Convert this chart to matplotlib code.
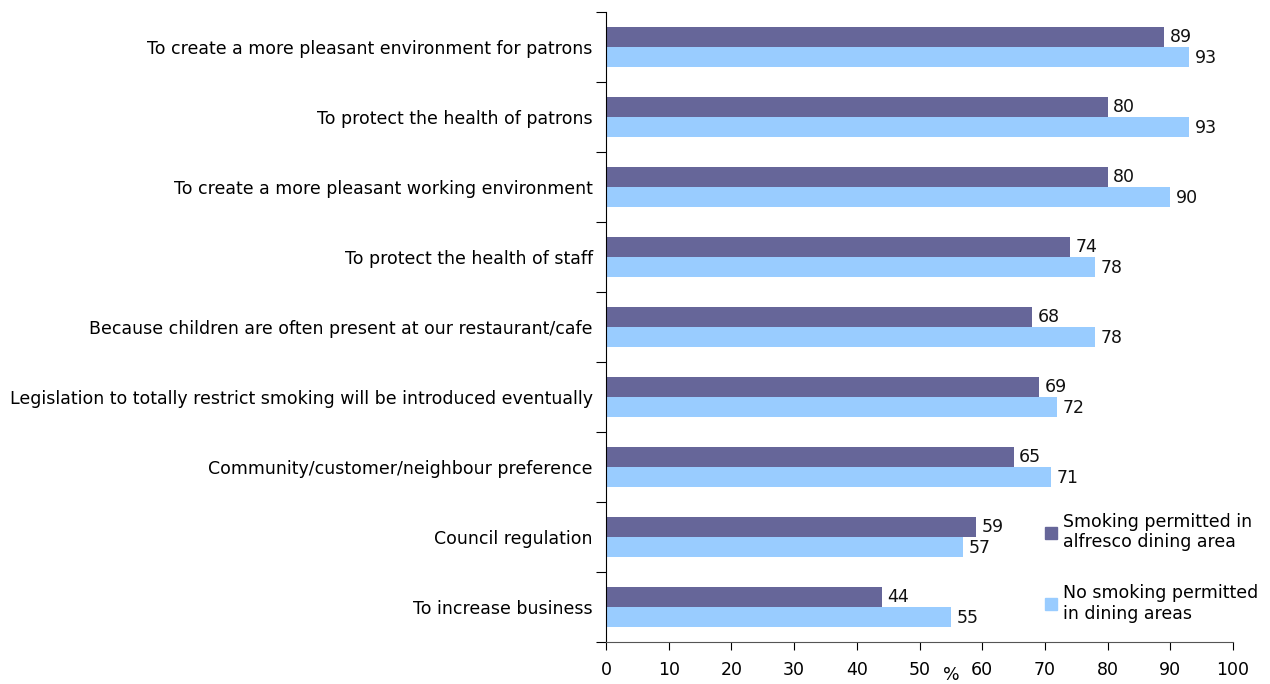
import matplotlib
matplotlib.use("Agg")
import matplotlib.pyplot as plt
import numpy as np
from matplotlib.patches import Patch

categories = [
    "To create a more pleasant environment for patrons",
    "To protect the health of patrons",
    "To create a more pleasant working environment",
    "To protect the health of staff",
    "Because children are often present at our restaurant/cafe",
    "Legislation to totally restrict smoking will be introduced eventually",
    "Community/customer/neighbour preference",
    "Council regulation",
    "To increase business",
]
smoking_alfresco = [89, 80, 80, 74, 68, 69, 65, 59, 44]
no_smoking = [93, 93, 90, 78, 78, 72, 71, 57, 55]
series_names = ["Smoking permitted in\nalfresco dining area",
                "No smoking permitted\nin dining areas"]
xticks = list(range(0, 101, 10))

dark = "#666699"
light = "#99CCFF"
fs = 12.5

fig = plt.figure(figsize=(12.7, 6.84), dpi=100)
ax = fig.add_axes([606/1270, 1-642/684, 627/1270, 630/684])

n = len(categories)
y = np.arange(n)
h = 0.286
ax.barh(y - h/2, smoking_alfresco, height=h, color=dark)
ax.barh(y + h/2, no_smoking, height=h, color=light)
for i in range(n):
    ax.text(smoking_alfresco[i] + 0.9, y[i] - h/2, str(smoking_alfresco[i]),
            va="center", ha="left", fontsize=fs, color="#111111")
    ax.text(no_smoking[i] + 0.9, y[i] + h/2 + 0.02, str(no_smoking[i]),
            va="center", ha="left", fontsize=fs, color="#111111")

ax.set_ylim(n - 0.5, -0.5)
ax.set_xlim(0, 100)
ax.set_xticks(xticks)
ax.set_xticklabels([str(t) for t in xticks], fontsize=fs)
ax.set_yticks(np.arange(-0.5, n, 1.0))
ax.set_yticklabels([])
ax.set_yticks(y, minor=True)
ax.set_yticklabels(categories, minor=True, fontsize=fs)
ax.tick_params(axis="y", which="minor", length=0, pad=9.5)
ax.tick_params(axis="y", which="major", length=7, direction="out")
ax.tick_params(axis="x", length=6, direction="out", pad=8)
for s in ["top", "right"]:
    ax.spines[s].set_visible(False)
ax.spines["bottom"].set_color("#555555")

fig.text(951/1270, 1-675/684, "%", ha="center", va="center", fontsize=fs)

handles = [Patch(color=dark), Patch(color=light)]
ax.legend(handles, series_names, loc="upper left", bbox_to_anchor=(1029/1270, 1-497/684),
          bbox_transform=fig.transFigure, frameon=False, fontsize=fs,
          handlelength=0.7, handleheight=0.7, handletextpad=0.35, labelspacing=1.88)

fig.savefig("out.png", dpi=100)
